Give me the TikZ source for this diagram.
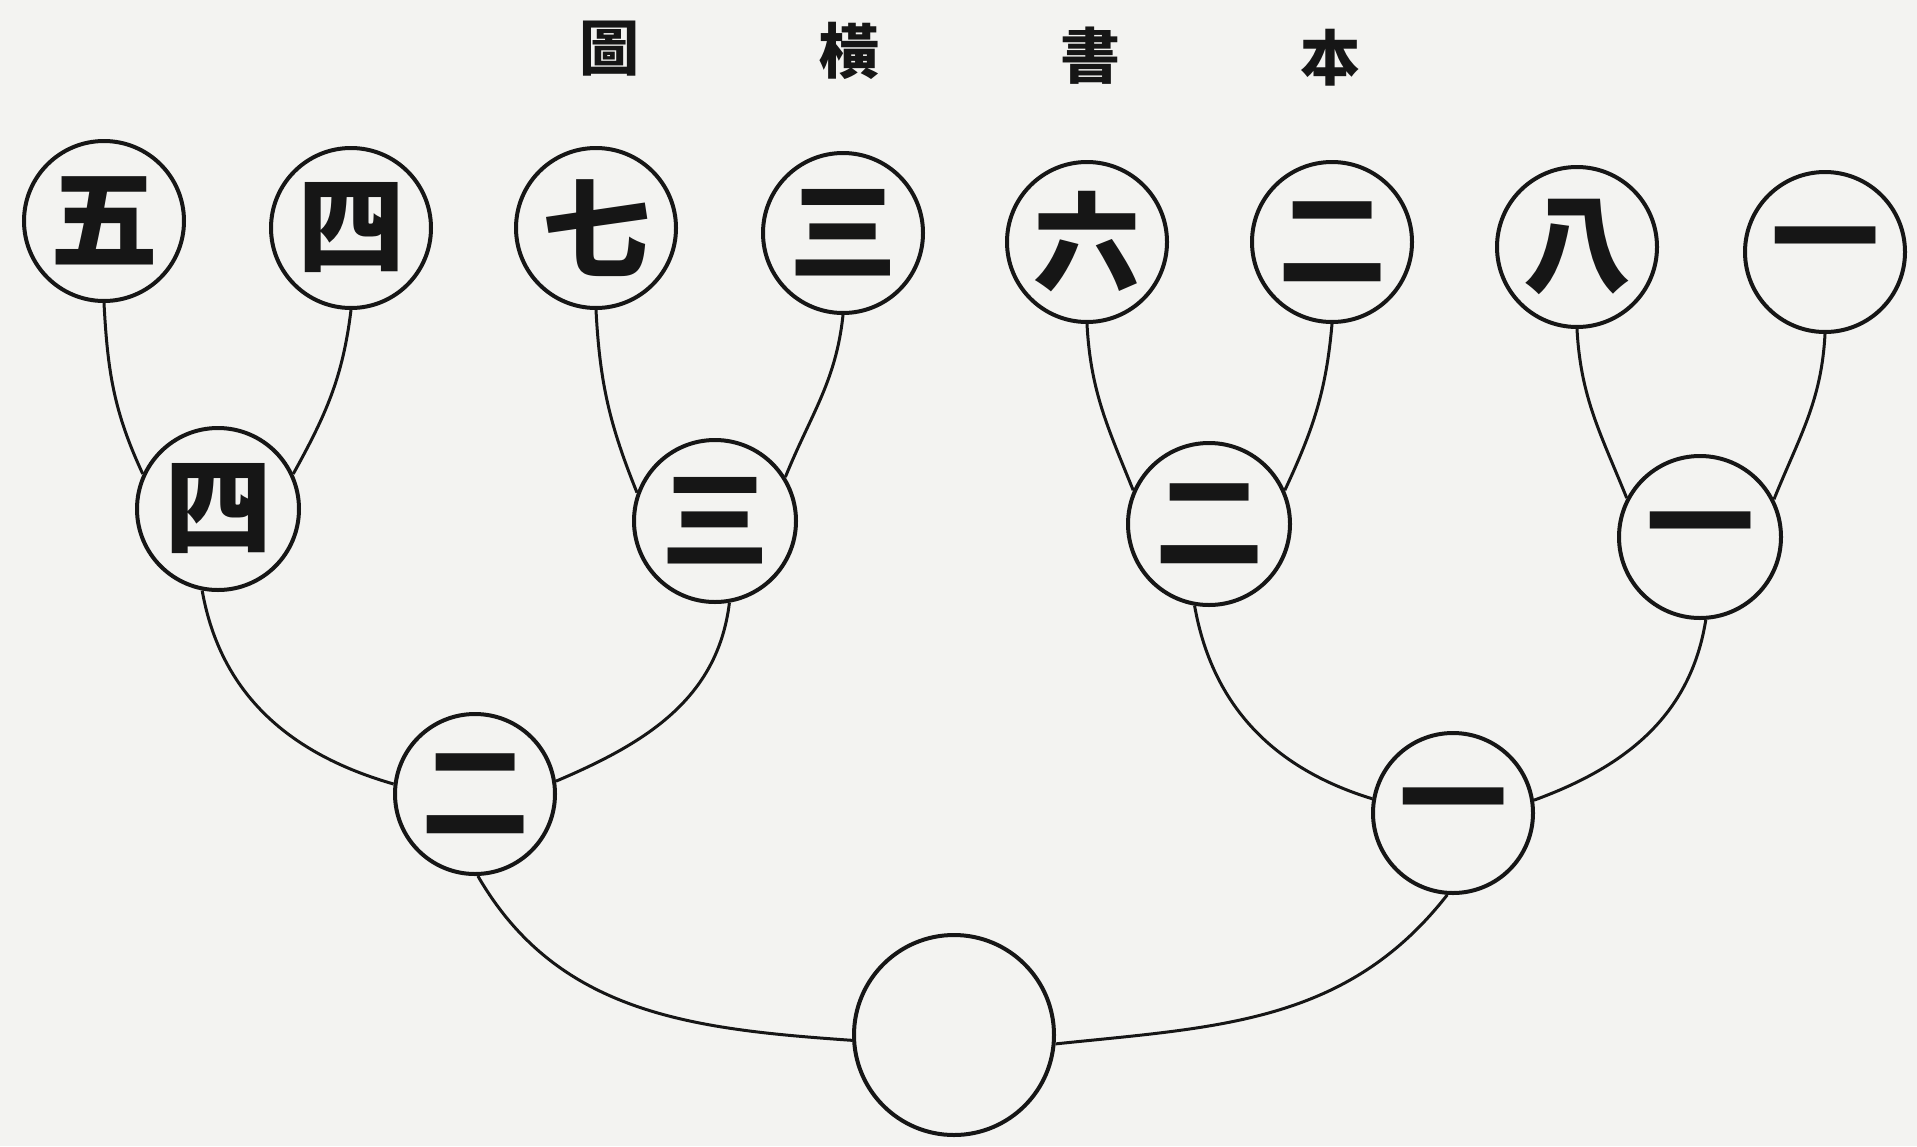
\documentclass[tikz,border=0pt]{standalone}
\usepackage{fontspec}
\newfontfamily\cjk{Noto Sans CJK JP}
\newfontfamily\cjktc{Noto Sans CJK TC}
\definecolor{paper}{RGB}{243,243,241}
\definecolor{ink}{RGB}{22,22,22}
\begin{document}
\begin{tikzpicture}[x=0.5pt,y=0.5pt,
  circ/.style={circle,draw=ink,line width=2pt,inner sep=0pt,minimum size=#1,font=\cjk\bfseries\fontsize{54}{54}\selectfont,text=ink},
  circ/.default=80pt,
  conn/.style={draw=ink,line width=1.5pt},
  ttl/.style={font=\cjktc\bfseries\fontsize{30}{30}\selectfont,text=ink,inner sep=0pt}]
\fill[paper] (0,0) rectangle (1917,-1146);
\useasboundingbox (0,0) rectangle (1917,-1146);
% title
\node[ttl] (g1) at (609,-49) {圖};
\node[ttl] (g2) at (849,-51) {橫};
\node[ttl] (g3) at (1090,-56) {書};
\node[ttl] (g4) at (1330,-58) {本};
% top row
\node[circ] (t5) at (104,-221) {五};
\node[circ] (t4) at (351,-228) {四};
\node[circ] (t7) at (596,-228) {七};
\node[circ] (t3) at (843,-233) {三};
\node[circ] (t6) at (1087,-242) {六};
\node[circ] (t2) at (1332,-242) {二};
\node[circ] (t8) at (1577,-247) {八};
\node[circ] (t1) at (1825,-252) {一};
% middle row
\node[circ=81pt] (m4) at (218,-509) {四};
\node[circ=81pt] (m3) at (715,-521) {三};
\node[circ=81pt] (m2) at (1209,-524) {二};
\node[circ=81pt] (m1) at (1700,-537) {一};
% third row
\node[circ] (s2) at (475,-794) {二};
\node[circ] (s1) at (1453,-813) {一};
% bottom
\node[circ=100pt] (b) at (954,-1035) {};
% connectors top -> middle
\draw[conn] (t5.south) to[out=-87,in=115] (m4.155);
\draw[conn] (t4.south) to[out=-97,in=61] (m4.25);
\draw[conn] (t7.south) to[out=-87,in=112] (m3.160);
\draw[conn] (t3.south) to[out=-96,in=68] (m3.32);
\draw[conn] (t6.south) to[out=-87,in=112] (m2.156);
\draw[conn] (t2.south) to[out=-95,in=65] (m2.24);
\draw[conn] (t8.south) to[out=-87,in=112] (m1.152);
\draw[conn] (t1.south) to[out=-93,in=68] (m1.27);
% middle -> third
\draw[conn] (m4.-101) to[out=-80,in=164] (s2.173);
\draw[conn] (m3.-80) to[out=-97,in=23] (s2.9);
\draw[conn] (m2.-100) to[out=-80,in=163] (s1.170);
\draw[conn] (m1.-86) to[out=-99,in=20] (s1.9);
% third -> bottom
\draw[conn] (s2.-88) to[out=-60,in=176] (b.183);
\draw[conn] (s1.-94) to[out=-128,in=6] (b.-5);
\end{tikzpicture}
\end{document}
